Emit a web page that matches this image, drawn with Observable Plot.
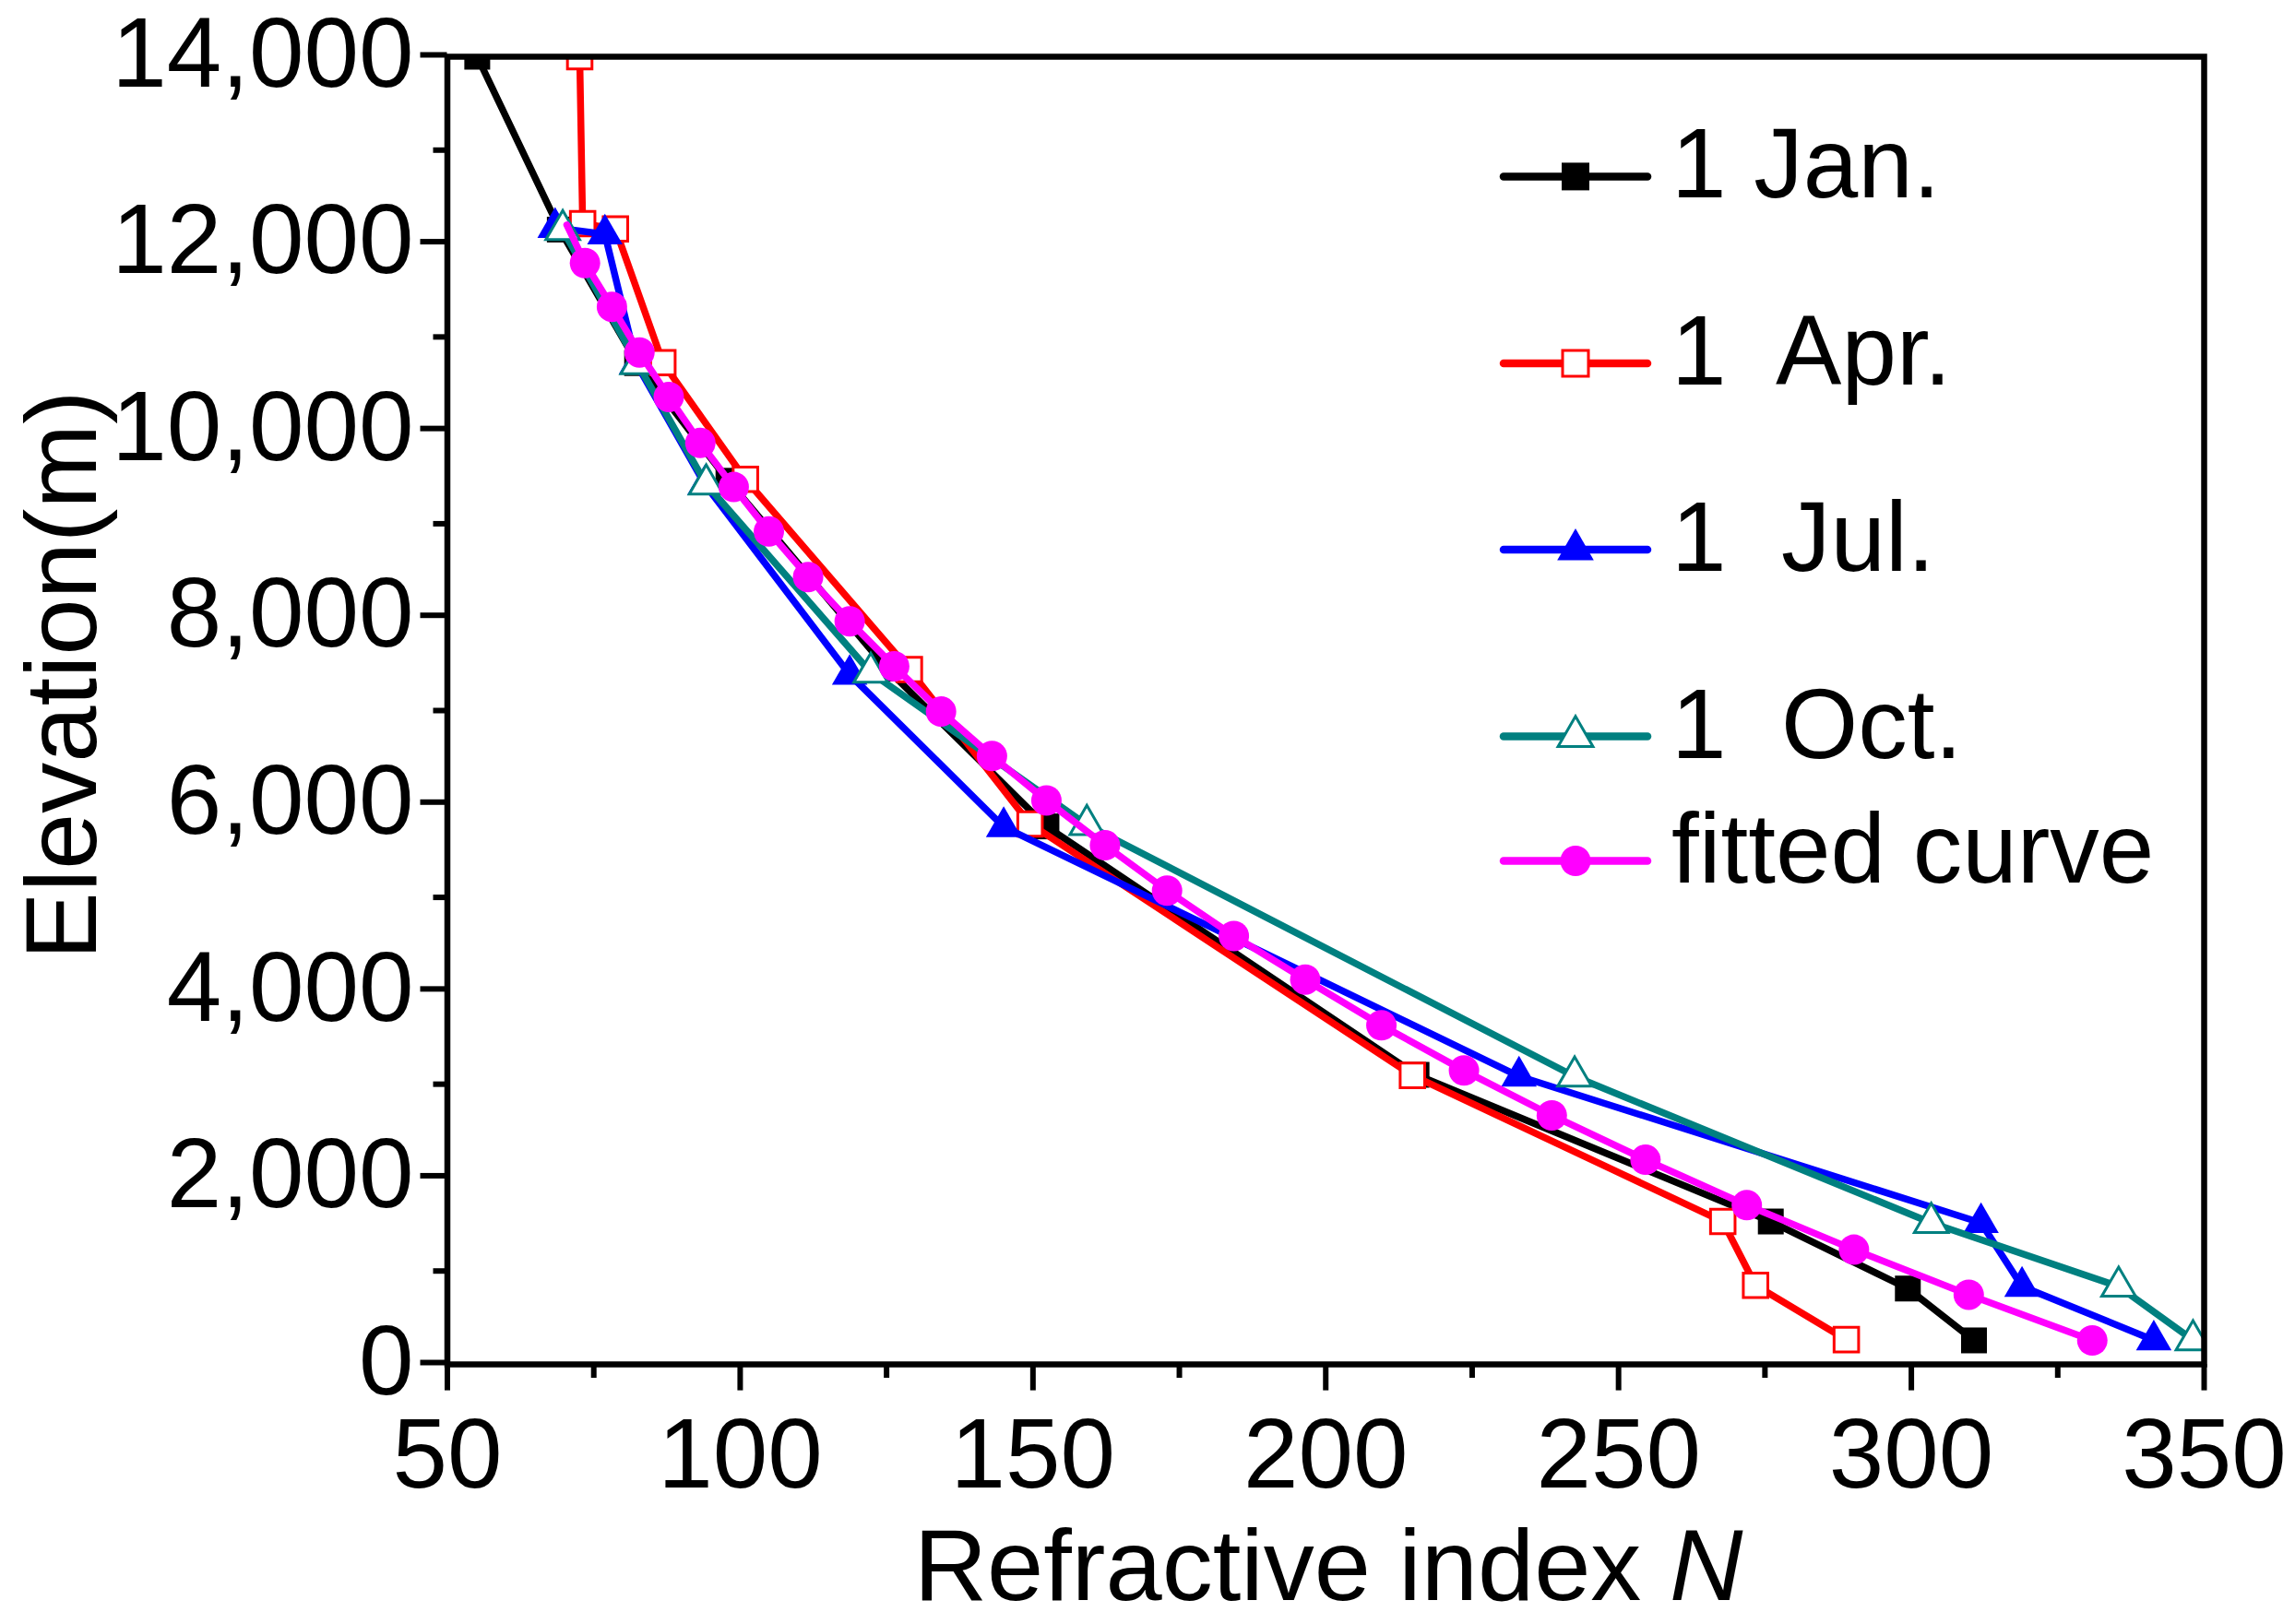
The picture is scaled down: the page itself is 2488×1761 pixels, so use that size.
<!DOCTYPE html>
<html>
<head>
<meta charset="utf-8">
<script src="https://cdn.jsdelivr.net/npm/d3@7"></script>
<script src="https://cdn.jsdelivr.net/npm/@observablehq/plot@0.6"></script>
<style>
  html, body { margin: 0; padding: 0; background: #fff; }
  #wrap { position: relative; width: 2488px; height: 1761px; overflow: hidden; }
  #overlay { position: absolute; left: 0; top: 0; pointer-events: none; }
</style>
</head>
<body>
<div id="wrap"></div>
<script>
// ---------- data ----------
const janN    = [310.7, 299.4, 276.0, 215.5, 152.3, 125.0, 98.0, 82.4, 69.2, 55.1];
const janElev = [257, 812, 1530, 3100, 5760, 7450, 9460, 10720, 12150, 14000];

const aprN    = [288.9, 273.4, 267.8, 214.8, 149.5, 128.9, 100.9, 86.8, 78.7, 73.1, 72.6];
const aprElev = [265, 846, 1530, 3094, 5786, 7440, 9475, 10724, 12156, 12213, 14000];

const julN    = [341.4, 318.9, 311.9, 233.0, 145.0, 118.7, 94.0, 82.3, 76.9, 68.4];
const julElev = [260, 834, 1516, 3085, 5755, 7385, 9420, 10710, 12100, 12170];

const octN    = [348.1, 335.4, 303.4, 242.5, 159.2, 122.3, 94.2, 82.5, 69.7];
const octElev = [260, 834, 1516, 3083, 5776, 7407, 9423, 10711, 12146];

const fitN    = [330.9, 309.8, 290.2, 271.9, 254.6, 238.6, 223.6, 209.5, 196.5, 184.3, 172.9, 162.3, 152.3,
                 143.0, 134.3, 126.3, 118.7, 111.6, 104.9, 98.9, 93.2, 87.8, 82.8, 78.1, 73.5];
const fitElev = [257, 746, 1228, 1705, 2191, 2666, 3146, 3631, 4120, 4587, 5072, 5558, 6037,
                 6513, 6989, 7474, 7955, 8430, 8917, 9393, 9865, 10358, 10834, 11323, 11791];
const fitTopN = [70.4];
const fitTopElev = [12200];

const xMajorTicks = [50, 100, 150, 200, 250, 300, 350];
const xMinorTicks = [75, 125, 175, 225, 275, 325];
const yMajorTicks = [0, 2000, 4000, 6000, 8000, 10000, 12000, 14000];
const yMinorTicks = [1000, 3000, 5000, 7000, 9000, 11000, 13000];

const seriesNames = ["1 Jan.", "1  Apr.", "1  Jul.", "1  Oct.", "fitted curve"];
const xTitle = "Refractive index ";
const xTitleItalic = "N";
const yTitle = "Elevation(m)";

// ---------- build tables ----------
const zip = (ns, es) => ns.map((n, i) => ({N: n, E: es[i]}));
const jan = zip(janN, janElev);
const apr = zip(aprN, aprElev);
const jul = zip(julN, julElev);
const oct = zip(octN, octElev);
const fit = zip(fitN, fitElev);
const fitLine = fit.concat(zip(fitTopN, fitTopElev));

const FONT = "'Liberation Sans', Arial, Helvetica, sans-serif";
const LW = 7.5;
const common = {x: "N", y: "E", clip: true};

const chart = Plot.plot({
  width: 2488,
  height: 1761,
  marginLeft: 484.5,
  marginRight: 99,
  marginTop: 61,
  marginBottom: 282,
  style: {fontFamily: FONT, background: "white", color: "black", overflow: "visible"},
  x: {domain: [50, 350]},
  y: {domain: [0, 14000]},
  marks: [
    Plot.axisX({ticks: xMajorTicks, tickSize: 28.6, tickPadding: 29, fontSize: 107, strokeWidth: 6,
                tickFormat: d => String(d), label: null}),
    Plot.axisX({ticks: xMinorTicks, tickSize: 15, strokeWidth: 6, tickFormat: () => "", label: null}),
    Plot.axisY({ticks: yMajorTicks, tickSize: 29, tickPadding: 7.5, fontSize: 107, strokeWidth: 6,
                tickFormat: d3.format(","), dy: -2, label: null}),
    Plot.axisY({ticks: yMinorTicks, tickSize: 15, strokeWidth: 6, tickFormat: () => "", label: null}),

    Plot.line(jan, {...common, stroke: "black", strokeWidth: LW}),
    Plot.dot(jan, {...common, symbol: "square", r: 15.8, fill: "black", stroke: "none"}),

    Plot.line(apr, {...common, stroke: "#ff0000", strokeWidth: LW}),
    Plot.dot(apr, {...common, symbol: "square", r: 15, fill: "white", stroke: "#ff0000", strokeWidth: 3}),

    Plot.line(jul, {...common, stroke: "#0000ff", strokeWidth: LW}),
    Plot.dot(jul, {...common, symbol: "triangle", r: 14.3, fill: "#0000ff", stroke: "none"}),

    Plot.line(oct, {...common, stroke: "#008080", strokeWidth: LW}),
    Plot.dot(oct, {...common, symbol: "triangle", r: 13.6, fill: "white", stroke: "#008080", strokeWidth: 3}),

    Plot.line(fitLine, {...common, stroke: "#ff00ff", strokeWidth: LW}),
    Plot.dot(fit, {...common, symbol: "circle", r: 16.5, fill: "#ff00ff", stroke: "none"}),

    Plot.frame({stroke: "black", strokeWidth: 6.5})
  ]
});

const wrap = document.getElementById("wrap");
wrap.appendChild(chart);

// ---------- legend and axis titles (overlay) ----------
const svg = d3.select(wrap).append("svg")
  .attr("id", "overlay")
  .attr("width", 2488).attr("height", 1761)
  .style("font-family", FONT);

const legendStyles = [
  {stroke: "black",   symbol: d3.symbolSquare,   size: 30 * 30, fill: "black",   mstroke: "none",    msw: 0},
  {stroke: "#ff0000", symbol: d3.symbolSquare,   size: 28 * 28, fill: "white",   mstroke: "#ff0000", msw: 3},
  {stroke: "#0000ff", symbol: d3.symbolTriangle, size: 680,     fill: "#0000ff", mstroke: "none",    msw: 0},
  {stroke: "#008080", symbol: d3.symbolTriangle, size: 620,     fill: "white",   mstroke: "#008080", msw: 3},
  {stroke: "#ff00ff", symbol: d3.symbolCircle,   size: Math.PI * 16.5 * 16.5, fill: "#ff00ff", mstroke: "none", msw: 0}
];
const legendY = [191.4, 394, 596, 798.6, 933.5];
const g = svg.append("g");
seriesNames.forEach((name, i) => {
  const s = legendStyles[i];
  const y = legendY[i];
  g.append("line").attr("x1", 1630).attr("x2", 1786).attr("y1", y).attr("y2", y)
    .attr("stroke", s.stroke).attr("stroke-width", 8.5).attr("stroke-linecap", "round");
  g.append("path").attr("d", d3.symbol(s.symbol, s.size)())
    .attr("transform", `translate(1708,${y})`)
    .attr("fill", s.fill).attr("stroke", s.mstroke).attr("stroke-width", s.msw);
  g.append("text").attr("x", 1812).attr("y", y + 23)
    .attr("font-size", 107).style("white-space", "pre").attr("fill", "black")
    .text(name);
});

const xt = svg.append("text").attr("x", 1440).attr("y", 1735)
  .attr("text-anchor", "middle").attr("font-size", 110).attr("fill", "black");
xt.append("tspan").style("white-space", "pre").text(xTitle);
xt.append("tspan").attr("font-style", "italic").text(xTitleItalic);

svg.append("text").attr("transform", "translate(104,732) rotate(-90)")
  .attr("text-anchor", "middle").attr("font-size", 110).attr("fill", "black")
  .text(yTitle);
</script>
</body>
</html>
